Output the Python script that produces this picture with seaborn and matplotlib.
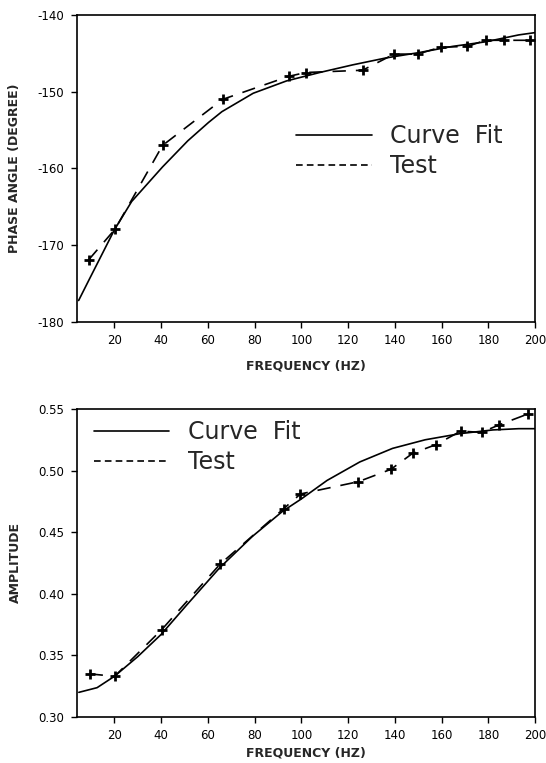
import matplotlib
matplotlib.use("Agg")
import matplotlib.pyplot as plt
import seaborn as sns
from matplotlib.lines import Line2D

# ---------------- data ----------------
# Phase angle (top panel)
phase_fit_hz = [4.7, 9, 12.5, 20, 27.4, 40.6, 51.4, 60.3, 66, 79.4, 93.6, 107.8,
                122, 136.2, 150.4, 164.6, 178.8, 193, 200]
phase_fit_deg = [-177.2, -174.6, -172.5, -168.0, -164.3, -159.8, -156.4, -154.0,
                 -152.6, -150.2, -148.6, -147.5, -146.5, -145.6, -144.9, -144.1,
                 -143.5, -142.6, -142.3]
phase_test_hz = [9.0, 20.3, 40.6, 66.3, 94.6, 101.8, 126.2, 139.7, 149.7, 159.6,
                 171.0, 178.8, 186.6, 197.8]
phase_test_deg = [-171.9, -167.9, -157.0, -151.0, -148.0, -147.5, -147.2, -145.1,
                  -145.1, -144.2, -144.1, -143.3, -143.3, -143.3]

# Amplitude (bottom panel)
amp_fit_hz = [4.8, 12.6, 20, 30, 40, 51, 65, 79, 92, 100, 111, 125, 139, 153,
              168, 182, 193, 200]
amp_fit_val = [0.320, 0.3238, 0.333, 0.349, 0.367, 0.391, 0.421, 0.4465, 0.467,
               0.477, 0.492, 0.507, 0.518, 0.525, 0.530, 0.533, 0.534, 0.534]
amp_test_hz = [9.4, 20.1, 40.3, 65.2, 92.4, 99.6, 124.4, 138.3, 147.6, 157.5,
               168.2, 177.1, 184.5, 197.0]
amp_test_val = [0.335, 0.333, 0.371, 0.424, 0.469, 0.481, 0.491, 0.501, 0.514,
                0.521, 0.532, 0.531, 0.537, 0.546]

x_ticks = [20, 40, 60, 80, 100, 120, 140, 160, 180, 200]
phase_ticks = [-180, -170, -160, -150, -140]
amp_ticks = [0.30, 0.35, 0.40, 0.45, 0.50, 0.55]
amp_tick_labels = ["0.30", "0.35", "0.40", "0.45", "0.50", "0.55"]

legend_labels = ["Curve  Fit", "Test"]
x_label = "FREQUENCY (HZ)"
phase_label = "PHASE ANGLE (DEGREE)"
amp_label = "AMPLITUDE"

# ---------------- style ----------------
sns.set_style("ticks")
plt.rcParams["font.family"] = ["DejaVu Sans"]
plt.rcParams["axes.unicode_minus"] = False

fig = plt.figure(figsize=(5.46, 7.63), dpi=100)
ax_top = fig.add_axes([0.141, 0.578, 0.839, 0.4024])
ax_bot = fig.add_axes([0.141, 0.0603, 0.839, 0.4037])


def draw(ax, fit_x, fit_y, test_x, test_y):
    sns.lineplot(x=fit_x, y=fit_y, ax=ax, color="black", lw=1.2, sort=False)
    sns.lineplot(x=test_x, y=test_y, ax=ax, color="black", lw=1.2, sort=False)
    test_line = ax.lines[-1]
    test_line.set_dashes((8, 6))
    test_line.set_marker("+")
    test_line.set_markersize(7)
    test_line.set_markeredgewidth(2.0)
    test_line.set_markeredgecolor("black")
    test_line.set_markerfacecolor("black")
    for sp in ax.spines.values():
        sp.set_visible(True)
        sp.set_linewidth(1.2)
        sp.set_color("black")
    ax.tick_params(direction="out", length=4, width=1.0, colors="black",
                   labelsize=8.5, pad=5)
    ax.set_xlim(4, 200)
    ax.set_xticks(x_ticks)
    ax.set_xlabel(x_label, fontsize=9, fontweight="bold", labelpad=9)


draw(ax_top, phase_fit_hz, phase_fit_deg, phase_test_hz, phase_test_deg)
ax_top.set_ylim(-180, -140)
ax_top.set_yticks(phase_ticks)
ax_top.set_ylabel(phase_label, fontsize=9, fontweight="bold", labelpad=12)

draw(ax_bot, amp_fit_hz, amp_fit_val, amp_test_hz, amp_test_val)
ax_bot.set_ylim(0.30, 0.55)
ax_bot.set_yticks(amp_ticks)
ax_bot.set_yticklabels(amp_tick_labels)
ax_bot.set_ylabel(amp_label, fontsize=9, fontweight="bold", labelpad=12)
ax_bot.xaxis.labelpad = 3


def make_legend(ax, anchor):
    h = [Line2D([], [], color="black", lw=1.2),
         Line2D([], [], color="black", lw=1.2, dashes=(4, 2.5))]
    ax.legend(h, legend_labels, loc="upper left", bbox_to_anchor=anchor,
              frameon=False, fontsize=17, handlelength=3.2, handletextpad=0.8,
              labelspacing=0.27, borderpad=0, borderaxespad=0)


make_legend(ax_top, (0.478, 0.645))
make_legend(ax_bot, (0.037, 0.964))

fig.savefig("out.png", dpi=100)
